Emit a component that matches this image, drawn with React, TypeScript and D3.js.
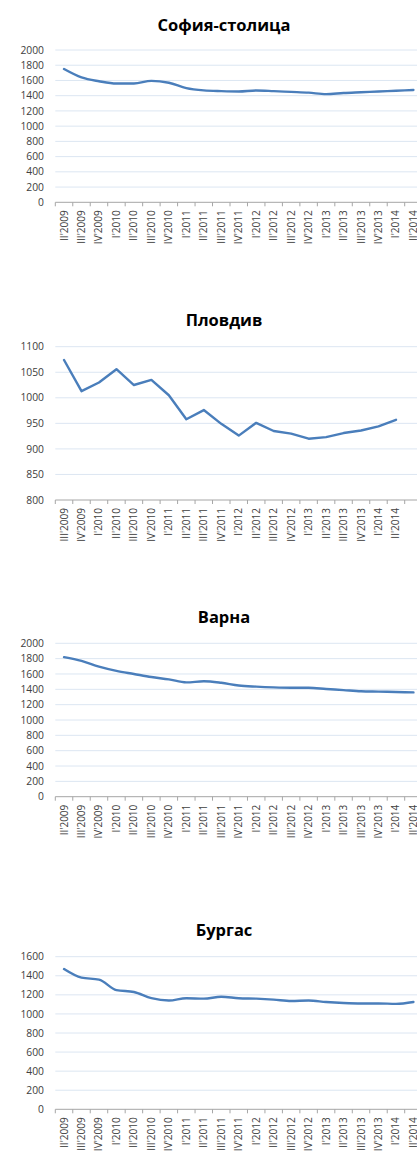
import React from "react";
import * as d3 from "d3";

// quarter labels
const quartersA = [
  "II'2009", "III'2009", "IV'2009", "I'2010", "II'2010", "III'2010", "IV'2010",
  "I'2011", "II'2011", "III'2011", "IV'2011", "I'2012", "II'2012", "III'2012",
  "IV'2012", "I'2013", "II'2013", "III'2013", "IV'2013", "I'2014", "II'2014",
];
const quartersB = [
  "III'2009", "IV'2009", "I'2010", "II'2010", "III'2010", "IV'2010", "I'2011",
  "II'2011", "III'2011", "IV'2011", "I'2012", "II'2012", "III'2012", "IV'2012",
  "I'2013", "II'2013", "III'2013", "IV'2013", "I'2014", "II'2014", "",
];

const sofia = [1750, 1640, 1590, 1560, 1560, 1595, 1570, 1500, 1470, 1460, 1455,
  1468, 1460, 1450, 1440, 1420, 1435, 1445, 1455, 1465, 1475];
const plovdiv = [1074, 1013, 1030, 1056, 1025, 1035, 1005, 958, 976, 949, 926,
  951, 935, 930, 920, 923, 931, 936, 944, 957, null];
const varna = [1820, 1770, 1695, 1640, 1600, 1560, 1530, 1490, 1505, 1485, 1450,
  1435, 1425, 1420, 1420, 1405, 1390, 1375, 1370, 1365, 1360];
const burgas = [1470, 1380, 1360, 1250, 1230, 1165, 1140, 1165, 1160, 1180, 1165,
  1160, 1150, 1135, 1140, 1125, 1115, 1110, 1110, 1105, 1125];

const titles = ["София-столица", "Пловдив", "Варна", "Бургас"];
const yDomains: [number, number][] = [[0, 2000], [800, 1100], [0, 2000], [0, 1600]];
const yStep = [200, 50, 200, 200];

// layout
const layout = [
  { titleY: 31, top: 50, bottom: 202.3, smooth: true },
  { titleY: 326, top: 346.7, bottom: 500, smooth: false },
  { titleY: 623, top: 643.3, bottom: 796.7, smooth: true },
  { titleY: 936, top: 956.7, bottom: 1109.3, smooth: true },
];
const left = 55.3;
const band = 17.47;
const font = "'Open Sans', 'Noto Sans', sans-serif";

function Chart({ idx, labels, values }: { idx: number; labels: string[]; values: (number | null)[] }) {
  const L = layout[idx];
  const x = d3.scaleBand<number>()
    .domain(d3.range(labels.length))
    .range([left, left + labels.length * band])
    .paddingInner(0).paddingOuter(0);
  const [y0, y1] = yDomains[idx];
  const y = d3.scaleLinear().domain([y0, y1]).range([L.bottom, L.top]);
  const ticks = d3.range(y0, y1 + 1, yStep[idx]);
  const line = d3.line<number | null>()
    .defined((d) => d !== null)
    .x((_, i) => (x(i) as number) + band / 2)
    .y((d) => y(d as number))
    .curve(L.smooth ? d3.curveMonotoneX : d3.curveLinear);
  const right = left + labels.length * band;

  return (
    <g>
      <text x={224} y={L.titleY} textAnchor="middle" fontFamily={font} fontWeight="bold" fontSize={16.5} fill="#000">
        {titles[idx]}
      </text>
      {ticks.map((t) => (
        <g key={t}>
          {t !== y0 && (
            <line x1={left} x2={right} y1={y(t)} y2={y(t)} stroke="#dce6f2" strokeWidth={1} />
          )}
          <text x={44} y={y(t)} dy="0.35em" textAnchor="end" fontFamily={font} fontSize={10.3} fill="#404040">
            {t}
          </text>
        </g>
      ))}
      <line x1={left} x2={right} y1={L.bottom} y2={L.bottom} stroke="#a6a6a6" strokeWidth={1} />
      {d3.range(labels.length + 1).map((i) => (
        <line key={i} x1={left + i * band} x2={left + i * band} y1={L.bottom} y2={L.bottom + 4} stroke="#a6a6a6" strokeWidth={1} />
      ))}
      {labels.map((lab, i) => (
        <text
          key={i}
          transform={`translate(${(x(i) as number) + band / 2},${L.bottom + 8}) rotate(-90)`}
          dy="0.35em"
          textAnchor="end"
          fontFamily={font}
          fontSize={10}
          fill="#404040"
        >
          {lab}
        </text>
      ))}
      <path d={line(values) || ""} fill="none" stroke="#4a7ebb" strokeWidth={2.4} strokeLinejoin="round" strokeLinecap="round" />
    </g>
  );
}

export default function App() {
  return (
    <svg width={417} height={1154} style={{ position: "absolute", left: 0, top: 0, background: "#fff" }}>
      <rect width={417} height={1154} fill="#fff" />
      <Chart idx={0} labels={quartersA} values={sofia} />
      <Chart idx={1} labels={quartersB} values={plovdiv} />
      <Chart idx={2} labels={quartersA} values={varna} />
      <Chart idx={3} labels={quartersA} values={burgas} />
    </svg>
  );
}
